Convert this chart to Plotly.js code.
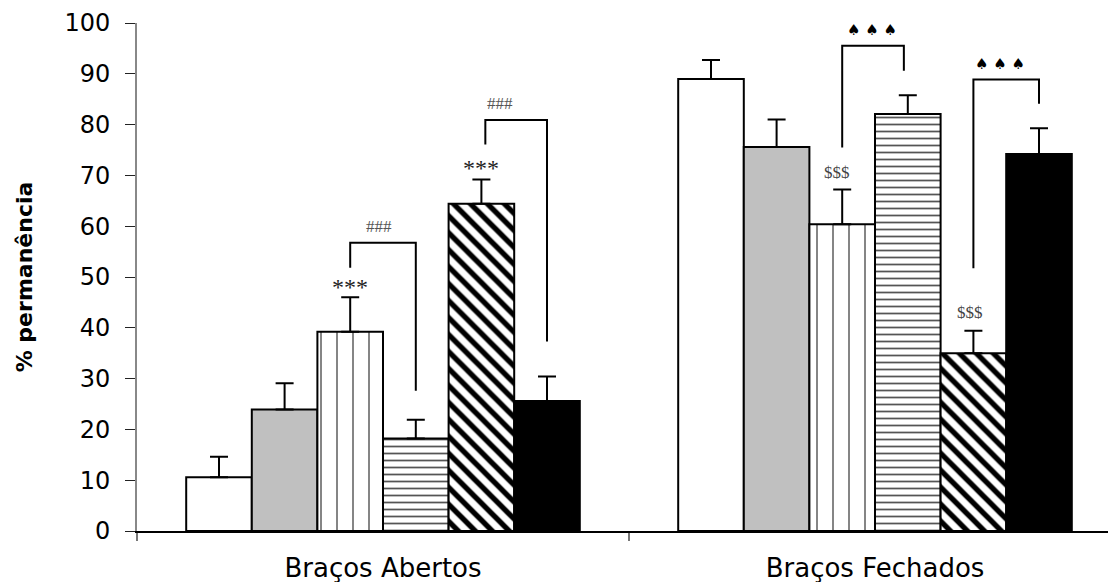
<!DOCTYPE html>
<html>
<head>
<meta charset="utf-8">
<script src="https://cdn.plot.ly/plotly-3.0.1.min.js"></script>
<style>html,body{margin:0;padding:0;background:#fff}#chart{width:1108px;height:582px}</style>
</head>
<body>
<div id="chart"></div>
<script>
// Categories (x axis)
const categories = ['Braços Abertos', 'Braços Fechados'];

// Series values (% permanência) and upper error (SEM) for each of the 6 groups
const grupo1 = [10.6, 89.0];
const grupo2 = [23.9, 75.6];
const grupo3 = [39.2, 60.4];
const grupo4 = [18.2, 82.1];
const grupo5 = [64.4, 35.0];
const grupo6 = [25.6, 74.2];

const erro1 = [4.0, 3.7];
const erro2 = [5.2, 5.4];
const erro3 = [6.8, 6.8];
const erro4 = [3.7, 3.7];
const erro5 = [4.8, 4.4];
const erro6 = [4.8, 5.1];

const yTicks = [0, 10, 20, 30, 40, 50, 60, 70, 80, 90, 100];

// Significance labels
const sigStars = '***';
const sigHash = '###';
const sigDollar = '$$$';
const sigSpade = '♠ ♠ ♠';

const series = [grupo1, grupo2, grupo3, grupo4, grupo5, grupo6];
const errors = [erro1, erro2, erro3, erro4, erro5, erro6];

const styles = [
  {color: '#ffffff'},
  {color: '#c0c0c0'},
  {color: '#ffffff', pattern: {shape: '|', fgcolor: '#666666', bgcolor: '#ffffff', size: 16, solidity: 0.1}},
  {color: '#ffffff', pattern: {shape: '-', fgcolor: '#555555', bgcolor: '#ffffff', size: 7, solidity: 0.25}},
  {color: '#ffffff', pattern: {shape: '\\', fgcolor: '#000000', bgcolor: '#ffffff', size: 12, solidity: 0.45}},
  {color: '#000000'}
];

const traces = series.map((vals, i) => ({
  type: 'bar',
  x: categories,
  y: vals,
  name: 'Grupo ' + (i + 1),
  showlegend: false,
  marker: Object.assign({line: {color: '#000', width: 2}}, styles[i]),
  error_y: {type: 'data', symmetric: false, array: errors[i], arrayminus: errors[i].map(() => 0),
            color: '#000', thickness: 2, width: 9},
  hoverinfo: 'x+y'
}));

// bar center offset within a category
const nBars = series.length, groupW = 0.8;
function cx(cat, i) { return cat + (-groupW / 2) + (groupW / nBars) * (i + 0.5); }

function bracket(x0, x1, yTop, yL, yR) {
  return {type: 'path', xref: 'x', yref: 'y',
          path: `M ${x0} ${yL} L ${x0} ${yTop} L ${x1} ${yTop} L ${x1} ${yR}`,
          line: {color: '#000', width: 2}};
}

const shapes = [
  bracket(cx(0, 2), cx(0, 3), 56.75, 51.8, 27.6),
  bracket(cx(0, 4) + 0.008, cx(0, 5), 80.9, 76.1, 37.3),
  bracket(cx(1, 2), cx(1, 3) - 0.008, 95.5, 75.5, 90.6),
  bracket(cx(1, 4), cx(1, 5), 88.9, 51.7, 84.1)
];

const serif = 'Liberation Serif, Times New Roman, serif';
function ann(text, x, y, size, color, fam) {
  return {text: text, x: x, y: y, xref: 'x', yref: 'y', showarrow: false,
          xanchor: 'center', yanchor: 'middle',
          font: {family: fam || serif, size: size, color: color}};
}
const annotations = [
  ann(sigStars, cx(0, 2), 48.1, 24, '#222'),
  ann(sigStars, cx(0, 4), 71.5, 24, '#222'),
  ann(sigHash, -0.008, 60.0, 17, '#555'),
  ann(sigHash, 0.238, 84.1, 17, '#555'),
  ann(sigDollar, 0.922, 70.5, 17, '#444'),
  ann(sigDollar, 1.193, 43.0, 17, '#444'),
  ann(sigSpade, 0.994, 98.6, 15, '#000', 'DejaVu Sans'),
  ann(sigSpade, 1.254, 91.9, 15, '#000', 'DejaVu Sans')
];

const plotW = 1108 - 137;
const layout = {
  width: 1108, height: 582,
  margin: {l: 137, r: 0, t: 23, b: 51},
  paper_bgcolor: '#fff', plot_bgcolor: '#fff',
  barmode: 'group', bargap: 0.2, bargroupgap: 0,
  font: {family: 'DejaVu Sans, Arial, sans-serif', color: '#000'},
  xaxis: {
    type: 'category', range: [-0.5, -0.5 + plotW / 492],
    showline: true, linecolor: '#000', linewidth: 1.5,
    showgrid: false, zeroline: false,
    tickson: 'boundaries', ticks: 'outside', ticklen: 8, tickcolor: '#777', tickwidth: 1.5,
    tickfont: {family: 'DejaVu Sans, Arial, sans-serif', size: 26, color: '#000'},
    ticklabelstandoff: 13
  },
  yaxis: {
    range: [0, 100], tickvals: yTicks, ticktext: yTicks.map(String),
    showline: true, linecolor: '#888', linewidth: 2,
    showgrid: false, zeroline: false,
    ticks: 'outside', ticklen: 10, tickcolor: '#222', tickwidth: 1,
    tickfont: {family: 'DejaVu Sans, Arial, sans-serif', size: 24, color: '#000'},
    ticklabelstandoff: 10,
    title: {text: '% permanência', standoff: 26,
            font: {family: 'DejaVu Sans, Arial, sans-serif', size: 22, weight: 'bold', color: '#000'}}
  },
  shapes: shapes,
  annotations: annotations
};

Plotly.newPlot('chart', traces, layout, {displayModeBar: false, staticPlot: true});
</script>
</body>
</html>
